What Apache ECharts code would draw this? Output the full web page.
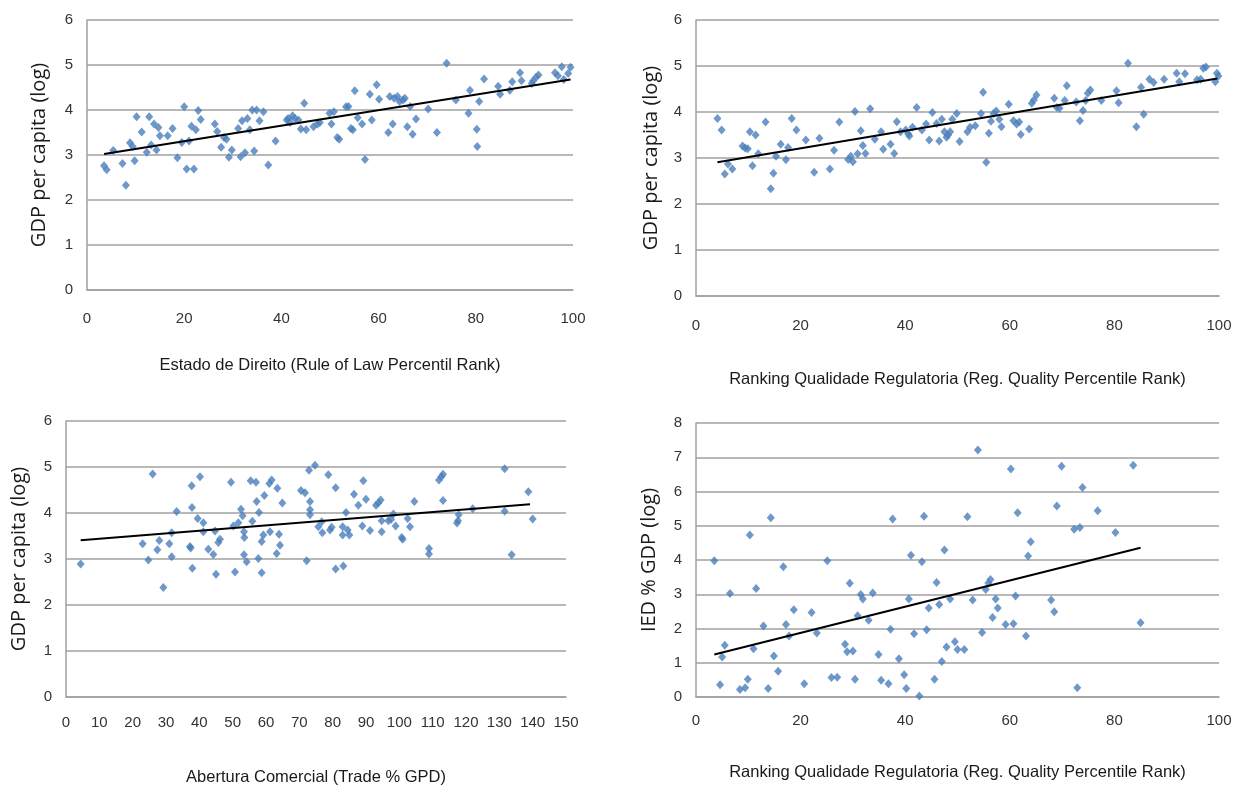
<!DOCTYPE html>
<html>
<head>
<meta charset="utf-8">
<script src="https://cdn.jsdelivr.net/npm/echarts@6/dist/echarts.min.js"></script>
<style>
html,body{margin:0;padding:0;background:#fff;}
#chart{width:1249px;height:789px;}
</style>
</head>
<body>
<div id="chart"></div>
<script>
// ---------- DATA ----------
const xTitles = [
  'Estado de Direito (Rule of Law Percentil Rank)',
  'Ranking Qualidade Regulatoria (Reg. Quality Percentile Rank)',
  'Abertura Comercial (Trade % GPD)',
  'Ranking Qualidade Regulatoria (Reg. Quality Percentile Rank)'
];
const yTitles = ['GDP per capita (log)', 'GDP per capita (log)', 'GDP per capita (log)', 'IED % GDP (log)'];

// Panel 1: Rule of law vs GDP per capita
const p1x = [3.5,4.05,5.4,7.3,8.0,8.85,9.4,9.8,10.2,11.25,12.3,12.8,13.2,13.8,14.3,14.7,15.0,16.6,17.6,18.6,19.5,20.0,20.5,21.0,21.5,22.0,22.4,22.9,23.4,26.3,26.8,27.6,28.2,28.7,29.2,29.8,31.1,31.6,31.9,32.5,33.0,33.5,34.0,34.4,34.9,35.5,36.3,37.3,38.8,41.1,41.4,41.8,42.3,42.8,43.5,44.0,44.7,45.1,46.6,47.4,47.9,49.9,50.3,50.8,51.5,51.9,53.3,53.8,54.3,54.7,55.1,55.7,56.6,57.2,58.2,58.6,59.6,60.1,62.0,62.3,62.9,63.2,63.9,64.3,65.0,65.4,65.9,66.5,67.0,67.7,70.2,72.0,74.0,75.9,78.5,78.8,80.2,80.3,80.7,81.7,84.6,85.0,87.0,87.5,89.1,89.4,91.5,91.8,92.4,92.9,96.3,96.9,97.7,98.1,99.0,99.5];
const p1y = [2.76,2.67,3.10,2.81,2.33,3.27,3.19,2.87,3.85,3.51,3.06,3.85,3.22,3.69,3.11,3.61,3.43,3.43,3.59,2.94,3.28,4.07,2.69,3.31,3.64,2.69,3.56,3.99,3.79,3.69,3.52,3.17,3.39,3.35,2.95,3.11,3.59,2.96,3.76,3.05,3.81,3.56,4.0,3.09,4.0,3.76,3.96,2.78,3.31,3.78,3.81,3.72,3.87,3.81,3.78,3.58,4.15,3.56,3.63,3.69,3.72,3.93,3.69,3.96,3.39,3.35,4.07,4.08,3.59,3.56,4.43,3.83,3.69,2.90,4.35,3.78,4.56,4.24,3.50,4.30,3.69,4.26,4.30,4.19,4.22,4.26,3.63,4.08,3.46,3.80,4.02,3.50,5.04,4.22,3.93,4.44,3.57,3.19,4.19,4.69,4.53,4.35,4.44,4.63,4.83,4.65,4.59,4.65,4.73,4.78,4.83,4.76,4.96,4.68,4.81,4.95];
const t1x = [3.5, 99.5];
const t1y = [3.02, 4.68];

// Panel 2: Regulatory quality vs GDP per capita
const p2x = [4.1,4.9,5.5,6.1,6.95,8.9,9.4,9.9,10.3,10.8,11.4,11.9,13.3,14.3,14.8,15.3,16.2,17.2,17.6,18.3,19.2,21.0,22.6,23.6,25.6,26.4,27.4,29.1,29.6,30.0,30.4,30.9,31.5,31.9,32.4,33.3,34.2,35.4,35.8,37.2,37.9,38.4,39.1,40.1,40.6,40.8,41.4,42.2,43.2,44.0,44.6,45.2,46.0,46.5,47.0,47.5,47.9,48.2,48.6,49.0,49.85,50.4,51.9,52.4,53.4,54.5,54.9,55.5,56.0,56.4,56.9,57.4,58.0,58.4,59.8,60.7,61.3,61.8,62.1,63.7,64.2,64.6,65.1,68.5,69.0,69.5,70.5,70.9,72.7,73.4,74.0,74.5,74.9,75.4,77.5,80.4,80.8,82.6,84.2,85.1,85.6,86.7,87.5,89.5,91.9,92.4,93.5,95.8,96.5,97.0,97.5,99.3,99.6,99.9];
const p2y = [3.86,3.61,2.65,2.87,2.76,3.26,3.22,3.20,3.57,2.83,3.50,3.09,3.78,2.33,2.67,3.04,3.30,2.96,3.23,3.86,3.61,3.39,2.69,3.43,2.76,3.17,3.78,2.97,3.04,2.92,4.01,3.09,3.59,3.27,3.10,4.07,3.41,3.57,3.19,3.30,3.10,3.79,3.57,3.61,3.52,3.48,3.67,4.10,3.61,3.74,3.39,3.99,3.75,3.37,3.84,3.57,3.45,3.50,3.57,3.84,3.97,3.36,3.57,3.67,3.70,3.97,4.43,2.91,3.54,3.80,3.97,4.02,3.84,3.68,4.17,3.81,3.74,3.78,3.51,3.63,4.19,4.26,4.37,4.30,4.10,4.08,4.25,4.57,4.22,3.81,4.03,4.25,4.41,4.48,4.25,4.46,4.20,5.06,3.68,4.54,3.95,4.71,4.64,4.71,4.84,4.66,4.83,4.70,4.71,4.95,4.98,4.66,4.84,4.78];
const t2x = [4.1, 99.7];
const t2y = [2.91, 4.73];

// Panel 3: Trade openness vs GDP per capita
const p3x = [4.4,23.0,24.7,26.0,27.4,28.0,29.2,31.0,31.7,31.7,33.2,37.2,37.4,37.7,37.8,37.9,39.5,40.2,41.2,41.2,42.7,44.2,44.7,45.0,45.7,46.2,49.5,50.2,50.7,51.7,52.5,53.0,53.4,53.5,53.4,54.2,55.4,55.9,57.0,57.2,57.7,57.9,58.7,58.7,59.2,59.5,61.0,61.2,61.7,63.2,63.4,63.9,64.2,64.9,70.5,71.7,72.2,73.2,72.9,73.2,73.2,74.7,75.7,76.7,76.9,78.7,79.2,79.7,80.9,80.9,83.0,83.0,83.2,84.0,84.5,85.0,86.4,87.7,88.9,89.2,90.0,91.2,93.0,93.7,94.4,94.7,94.7,96.7,97.5,98.2,98.9,100.7,101.0,102.5,103.2,104.5,108.9,108.9,111.9,112.6,113.1,113.1,117.3,117.6,117.8,122.0,131.6,131.6,133.7,138.7,140.0];
const p3y = [2.89,3.33,2.98,4.85,3.20,3.40,2.38,3.33,3.05,3.57,4.03,3.27,3.24,4.59,4.12,2.80,3.88,4.79,3.79,3.59,3.21,3.10,3.61,2.67,3.36,3.43,4.67,3.72,2.72,3.79,4.08,3.94,3.59,3.47,3.09,2.94,4.70,3.82,4.67,4.25,3.01,4.01,3.38,2.70,3.52,4.38,4.64,3.59,4.72,3.12,4.54,3.54,3.30,4.22,4.49,4.44,2.96,4.25,4.93,4.07,3.96,5.04,3.70,3.81,3.57,4.83,3.63,3.69,4.55,2.78,3.70,3.52,2.85,4.01,3.63,3.52,4.41,4.17,3.72,4.70,4.30,3.62,4.17,4.22,4.28,3.83,3.59,3.83,3.86,3.98,3.72,3.47,3.43,3.88,3.70,4.25,3.23,3.11,4.72,4.79,4.84,4.27,3.78,3.83,3.96,4.09,4.96,4.04,3.09,4.46,3.87];
const t3x = [4.4, 139.2];
const t3y = [3.41, 4.19];

// Panel 4: Regulatory quality vs FDI % GDP
const p4x = [3.5,4.6,5.0,5.5,6.5,8.4,9.4,9.9,10.3,11.0,11.5,12.9,13.8,14.3,14.9,15.7,16.7,17.2,17.8,18.7,20.7,22.1,23.1,25.1,25.9,27.0,28.5,28.9,29.4,30.0,30.4,30.9,31.5,31.9,33.0,33.8,34.9,35.4,36.8,37.2,37.6,38.8,39.8,40.2,40.7,41.1,41.7,42.7,43.2,43.6,44.1,44.5,45.6,46.0,46.5,47.0,47.5,47.9,48.6,49.5,50.0,51.3,51.9,52.9,53.9,54.7,55.4,55.9,56.3,56.7,57.3,57.7,59.2,60.2,60.7,61.1,61.5,63.1,63.5,64.0,67.9,68.5,69.0,69.9,72.3,72.9,73.4,73.9,76.8,80.2,83.6,85.0];
const p4y = [3.98,0.36,1.17,1.51,3.02,0.22,0.27,0.52,4.73,1.41,3.17,2.07,0.25,5.23,1.20,0.75,3.80,2.12,1.78,2.55,0.39,2.47,1.87,3.98,0.57,0.58,1.54,1.32,3.32,1.34,0.52,2.37,2.99,2.86,2.24,3.04,1.24,0.49,0.39,1.98,5.20,1.12,0.65,0.25,2.86,4.14,1.85,0.03,3.95,5.28,1.96,2.60,0.52,3.34,2.70,1.04,4.29,1.46,2.86,1.61,1.39,1.39,5.26,2.83,7.21,1.88,3.14,3.33,3.43,2.32,2.86,2.60,2.12,6.66,2.14,2.95,5.38,1.78,4.12,4.53,2.83,2.49,5.58,6.74,4.90,0.27,4.95,6.12,5.44,4.80,6.77,2.17];
const t4x = [3.5, 85.0];
const t4y = [1.24, 4.36];

const xMax = [100, 100, 150, 100];
const xStep = [20, 20, 10, 20];
const yMax = [6, 6, 6, 8];

// ---------- CHART ----------
const zip = (a, b) => a.map((v, i) => [v, b[i]]);
const panels = [[p1x,p1y,t1x,t1y],[p2x,p2y,t2x,t2y],[p3x,p3y,t3x,t3y],[p4x,p4y,t4x,t4y]];

const grids = [
  {left: 87, top: 20, width: 486, height: 270},
  {left: 696, top: 20, width: 523, height: 276},
  {left: 66, top: 421, width: 500, height: 276},
  {left: 696, top: 423, width: 523, height: 274}
];
const xNameGap = [67, 75, 72, 67];
const xLabelMargin = [21, 22, 18, 16];
const yNameGap = [38, 35, 37, 37];

const tickFont = "'Liberation Sans Narrow', 'Liberation Sans', sans-serif";
const titleFont = "'Open Sans', 'Noto Sans', sans-serif";
const gridColor = '#a0a0a0';

const option = {
  animation: false,
  backgroundColor: '#ffffff',
  grid: grids,
  xAxis: grids.map((g, i) => ({
    gridIndex: i, type: 'value', min: 0, max: xMax[i], interval: xStep[i],
    name: xTitles[i], nameLocation: 'middle', nameGap: xNameGap[i],
    nameTextStyle: {fontFamily: tickFont, fontSize: 16.5, color: '#1a1a1a'},
    axisLine: {show: true, onZero: false, lineStyle: {color: gridColor, width: 1.5}},
    axisTick: {show: false},
    splitLine: {show: false},
    axisLabel: {fontFamily: tickFont, fontSize: 15, color: '#333333', margin: xLabelMargin[i]}
  })),
  yAxis: grids.map((g, i) => ({
    gridIndex: i, type: 'value', min: 0, max: yMax[i], interval: 1,
    name: yTitles[i], nameLocation: 'middle', nameGap: yNameGap[i],
    nameTextStyle: {fontFamily: titleFont, fontSize: 20, color: '#1a1a1a'},
    axisLine: {show: true, lineStyle: {color: gridColor, width: 1.5}},
    axisTick: {show: false},
    splitLine: {show: true, lineStyle: {color: gridColor, width: 1.5}},
    axisLabel: {fontFamily: tickFont, fontSize: 15, color: '#333333', margin: 14}
  })),
  series: []
};

panels.forEach((p, i) => {
  option.series.push({
    type: 'scatter', xAxisIndex: i, yAxisIndex: i,
    symbol: 'diamond', symbolSize: [8, 9],
    itemStyle: {color: '#4a7ebb'},
    data: zip(p[0], p[1]), z: 2
  });
  option.series.push({
    type: 'line', xAxisIndex: i, yAxisIndex: i,
    showSymbol: false, symbol: 'none',
    lineStyle: {color: '#000000', width: 2},
    data: zip(p[2], p[3]), z: 3
  });
});

const chart = echarts.init(document.getElementById('chart'), null, {renderer: 'canvas'});
chart.setOption(option);
</script>
</body>
</html>
